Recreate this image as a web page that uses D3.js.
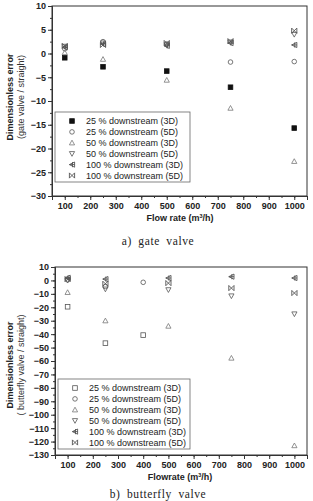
<!DOCTYPE html>
<html>
<head>
<meta charset="utf-8">
<script src="https://cdn.jsdelivr.net/npm/d3@7"></script>
<style>
  body { margin: 0; background: #fff; }
  svg { display: block; }
  text { font-family: "Liberation Sans", Arial, sans-serif; }
</style>
</head>
<body>
<svg id="chart" width="313" height="501"></svg>
<script>
// ---- data: gate valve ----
var gateFlow = [100, 250, 500, 750, 1000];
var gate25_3D = [-0.9, -2.8, -3.7, -7.1, -15.7];
var gate25_5D = [1.0, 2.5, 2.0, -1.8, -1.7];
var gate50_3D = [0.2, -1.2, -5.6, -11.5, -22.7];
var gate50_5D = [1.5, 2.2, 1.8, 2.4, 4.0];
var gate100_3D = [1.3, 2.0, 1.6, 2.2, 1.8];
var gate100_5D = [1.6, 1.8, 2.2, 2.6, 4.8];

// ---- data: butterfly valve ----
var bfFlow25 = [100, 250, 400];
var bfFlow = [100, 250, 500, 750, 1000];
var bf25_3D = [-19.6, -46.7, -40.7];
var bf25_5D = [0.5, -4.5, -1.4];
var bf50_3D = [-8.9, -30, -34, -57.8, -123];
var bf50_5D = [0, -6.5, -7, -11.6, -25];
var bf100_3D = [2, 1, 1.8, 2.8, 1.8];
var bf100_5D = [1, -2.5, -2, -5.7, -9.4];

var legendLabels = ["25 % downstream (3D)", "25 % downstream (5D)", "50 % downstream (3D)",
                    "50 % downstream (5D)", "100 % downstream (3D)", "100 % downstream (5D)"];
var markerTypes = ["square", "circle", "triUp", "triDown", "leftCross", "bowtie"];

var svg = d3.select("#chart");

function drawMarker(g, type, x, y, filled) {
  var s = 2.6, col = "#555";
  if (type === "square") {
    g.append("rect").attr("x", x - s + 0.3).attr("y", y - s + 0.3)
      .attr("width", 2 * s - 0.6).attr("height", 2 * s - 0.6)
      .attr("fill", filled ? "#111" : "none").attr("stroke", filled ? "#111" : col).attr("stroke-width", 0.8);
  } else if (type === "circle") {
    g.append("circle").attr("cx", x).attr("cy", y).attr("r", s - 0.3)
      .attr("fill", "none").attr("stroke", col).attr("stroke-width", 0.8);
  } else if (type === "triUp") {
    g.append("path").attr("d", "M" + x + "," + (y - s) + "L" + (x + s) + "," + (y + s - 0.5) + "L" + (x - s) + "," + (y + s - 0.5) + "Z")
      .attr("fill", "none").attr("stroke", "#777").attr("stroke-width", 0.8);
  } else if (type === "triDown") {
    g.append("path").attr("d", "M" + x + "," + (y + s) + "L" + (x + s) + "," + (y - s + 0.5) + "L" + (x - s) + "," + (y - s + 0.5) + "Z")
      .attr("fill", "none").attr("stroke", col).attr("stroke-width", 0.8);
  } else if (type === "leftCross") {
    g.append("path").attr("d", "M" + (x - s) + "," + y + "L" + (x + s) + "," + (y - s) + "L" + (x + s) + "," + (y + s) + "Z"
        + "M" + (x - s) + "," + y + "H" + (x + s) + "M" + (x + 0.5) + "," + (y - s) + "V" + (y + s))
      .attr("fill", "none").attr("stroke", col).attr("stroke-width", 0.9);
  } else if (type === "bowtie") {
    g.append("path").attr("d", "M" + (x - s) + "," + (y - s) + "L" + (x + s) + "," + (y + s)
        + "M" + (x - s) + "," + (y + s) + "L" + (x + s) + "," + (y - s)
        + "M" + (x - s) + "," + (y - s) + "V" + (y + s) + "M" + (x + s) + "," + (y - s) + "V" + (y + s))
      .attr("fill", "none").attr("stroke", col).attr("stroke-width", 0.9);
  }
}

function panel(opt) {
  var g = svg.append("g");
  var x = d3.scaleLinear().domain([50, 1050]).range([opt.left, 307]);
  var y = d3.scaleLinear().domain(opt.yDomain).range([opt.bottom, opt.top]);

  // frame
  g.append("rect").attr("x", opt.left).attr("y", opt.top)
    .attr("width", 307 - opt.left).attr("height", opt.bottom - opt.top)
    .attr("fill", "none").attr("stroke", "#333").attr("stroke-width", 1);

  // x axis
  var xMinor = d3.range(50, 1051, 50);
  var xa = g.append("g").attr("transform", "translate(0," + opt.bottom + ")")
    .call(d3.axisBottom(x).tickValues(xMinor).tickSize(2).tickFormat(""));
  var xb = g.append("g").attr("transform", "translate(0," + opt.bottom + ")")
    .call(d3.axisBottom(x).tickValues(d3.range(100, 1001, 100)).tickSize(4).tickPadding(3).tickFormat(d3.format("d")));
  // y axis
  var ya = g.append("g").attr("transform", "translate(" + opt.left + ",0)")
    .call(d3.axisLeft(y).tickValues(opt.yMinor).tickSize(2).tickFormat(""));
  var yb = g.append("g").attr("transform", "translate(" + opt.left + ",0)")
    .call(d3.axisLeft(y).tickValues(opt.yMajor).tickSize(4).tickPadding(2).tickFormat(d3.format("d")));
  [xa, xb, ya, yb].forEach(function (a) {
    a.select(".domain").attr("stroke", "#333");
    a.selectAll("line").attr("stroke", "#333");
    a.selectAll("text").attr("font-size", 9).attr("font-weight", "bold").attr("fill", "#222")
      .style("font-family", "Liberation Sans, Arial, sans-serif");
  });

  // axis titles
  g.append("text").attr("x", 180).attr("y", opt.bottom + 25).attr("text-anchor", "middle")
    .attr("font-size", 9).attr("font-weight", "bold").attr("fill", "#222")
    .html(opt.xTitle + " (m<tspan font-size='5.5' dy='-3.5'>3</tspan><tspan dy='3.5'>/h)</tspan>");
  var cy = opt.titleY;
  g.append("text").attr("transform", "translate(13," + cy + ") rotate(-90)").attr("text-anchor", "middle")
    .attr("font-size", 9).attr("font-weight", "bold").attr("fill", "#222").text("Dimensionless error");
  g.append("text").attr("transform", "translate(24," + cy + ") rotate(-90)").attr("text-anchor", "middle")
    .attr("font-size", 9).attr("fill", "#333").text(opt.yTitle2);

  // legend
  var lg = g.append("g");
  lg.append("rect").attr("x", opt.legX).attr("y", opt.legY).attr("width", 190 - opt.legX).attr("height", 70)
    .attr("fill", "#fff").attr("stroke", "#666").attr("stroke-width", 0.8);
  legendLabels.forEach(function (lab, i) {
    var ly = opt.legY + 9 + i * 10.9;
    drawMarker(lg, markerTypes[i], opt.legX + 17, ly, i === 0 && opt.filledFirst);
    lg.append("text").attr("x", opt.legX + 31).attr("y", ly + 3.2).attr("font-size", 9).attr("fill", "#222").text(lab);
  });

  // points
  var pg = g.append("g");
  opt.series.forEach(function (s, i) {
    s.y.forEach(function (v, j) {
      drawMarker(pg, markerTypes[i], x(s.x[j]), y(v), i === 0 && opt.filledFirst);
    });
  });

  // caption (serif, as in the paper)
  g.append("text").attr("x", 158).attr("y", opt.captionY).attr("text-anchor", "middle")
    .style("font-family", "'Liberation Serif', 'DejaVu Serif', serif").attr("font-size", 11.5)
    .attr("fill", "#222").attr("letter-spacing", 0.6).attr("word-spacing", 3).text(opt.caption);
}

panel({
  left: 52, top: 6, bottom: 196,
  yDomain: [-30, 10], yMajor: d3.range(-30, 11, 5), yMinor: d3.range(-30, 10.1, 2.5),
  xTitle: "Flow rate", yTitle2: "(gate valve / straight)", titleY: 97,
  legX: 55, legY: 112, filledFirst: true,
  caption: "a) gate valve", captionY: 245,
  series: [
    {x: gateFlow, y: gate25_3D}, {x: gateFlow, y: gate25_5D}, {x: gateFlow, y: gate50_3D},
    {x: gateFlow, y: gate50_5D}, {x: gateFlow, y: gate100_3D}, {x: gateFlow, y: gate100_5D}
  ]
});

panel({
  left: 55, top: 267, bottom: 455,
  yDomain: [-130, 10], yMajor: d3.range(-130, 11, 10), yMinor: d3.range(-130, 10.1, 5),
  xTitle: "Flowrate", yTitle2: "( butterfly valve / straight)", titleY: 365,
  legX: 58, legY: 379, filledFirst: false,
  caption: "b) butterfly valve", captionY: 498,
  series: [
    {x: bfFlow25, y: bf25_3D}, {x: bfFlow25, y: bf25_5D}, {x: bfFlow, y: bf50_3D},
    {x: bfFlow, y: bf50_5D}, {x: bfFlow, y: bf100_3D}, {x: bfFlow, y: bf100_5D}
  ]
});
</script>
</body>
</html>
